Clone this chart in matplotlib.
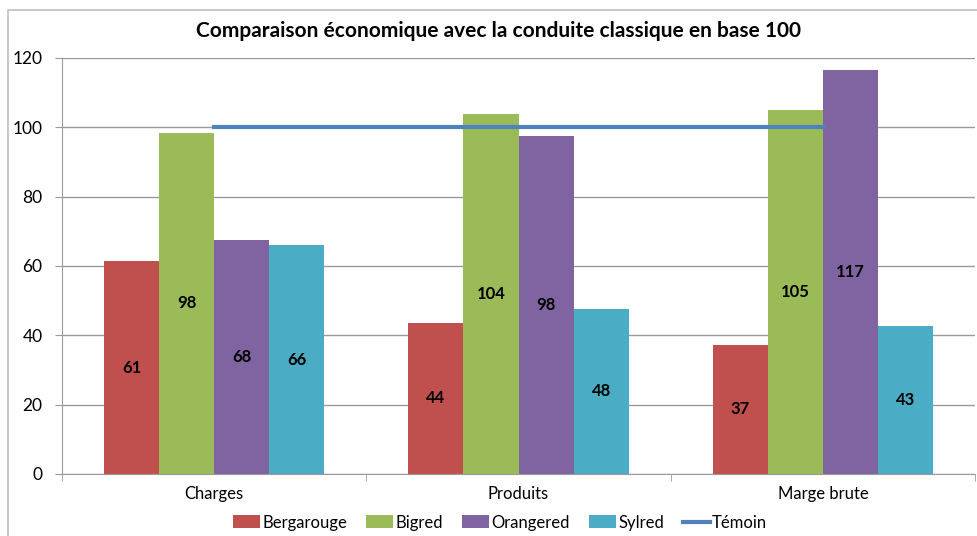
import numpy as np
from matplotlib import pyplot as plt
from matplotlib.patches import Rectangle

plt.rcParams['font.family'] = ['Lato', 'DejaVu Sans']

categories = ['Charges', 'Produits', 'Marge brute']
series = ['Bergarouge', 'Bigred', 'Orangered', 'Sylred']
bergarouge = [61.4, 43.6, 37.2]
bigred = [98.4, 103.8, 105.0]
orangered = [67.5, 97.5, 116.5]
sylred = [66.0, 47.6, 42.7]
labels = [[61, 44, 37], [98, 104, 105], [68, 98, 117], [66, 48, 43]]
temoin = [100, 100, 100]

colors = ['#C0504D', '#9BBB59', '#8064A2', '#4BACC6']
values = [bergarouge, bigred, orangered, sylred]

fig = plt.figure(figsize=(9.77, 5.36), dpi=100)
ax = fig.add_axes([0.0635, 0.1157, 0.9345, 0.7763])

x = np.arange(len(categories))
w = 0.181
for i, (vals, col, name) in enumerate(zip(values, colors, series)):
    pos = x + (i - 1.5) * w
    ax.bar(pos, vals, width=w, color=col, label=name, zorder=2)
    for p, v, lab in zip(pos, vals, labels[i]):
        ax.text(p, v / 2, str(lab), ha='center', va='center',
                fontsize=12, fontweight='bold', color='black', zorder=4)

ax.plot(x, temoin, color='#4F81BD', lw=3, label='Témoin', zorder=3)

ax.set_xlim(-0.5, 2.5)
ax.set_ylim(0, 120)
ax.set_yticks(range(0, 121, 20))
ax.yaxis.grid(True, color='#9A9A9A', lw=1, zorder=0)
ax.set_axisbelow(True)
for s in ['top', 'right']:
    ax.spines[s].set_visible(False)
ax.spines['left'].set_color('#9A9A9A')
ax.spines['bottom'].set_color('#9A9A9A')
ax.set_xticks(x)
ax.set_xticklabels(categories, fontsize=12)
ax.set_xticks([-0.5, 0.5, 1.5, 2.5], minor=True)
ax.tick_params(axis='x', which='major', length=0, pad=9)
ax.tick_params(axis='x', which='minor', length=5, color='#9A9A9A', direction='out')
ax.tick_params(axis='y', length=5, color='#9A9A9A', labelsize=12.5, pad=9)

fig.text(0.51, 0.942, 'Comparaison économique avec la conduite classique en base 100',
         ha='center', va='center', fontsize=15, fontweight='bold')

h, l = ax.get_legend_handles_labels()
order = [1, 2, 3, 4, 0]
fig.legend([h[k] for k in order], [l[k] for k in order], loc='center', ncol=5,
           bbox_to_anchor=(0.512, 0.025), frameon=False, fontsize=12,
           handlelength=1.6, handleheight=0.8, handletextpad=0.15, columnspacing=1.15)

fig.patches.append(Rectangle((0.008, -0.01), 1.1, 0.992, transform=fig.transFigure,
                             fill=False, edgecolor='#BFBFBF', lw=1.2))

plt.savefig('out.png', dpi=100)
